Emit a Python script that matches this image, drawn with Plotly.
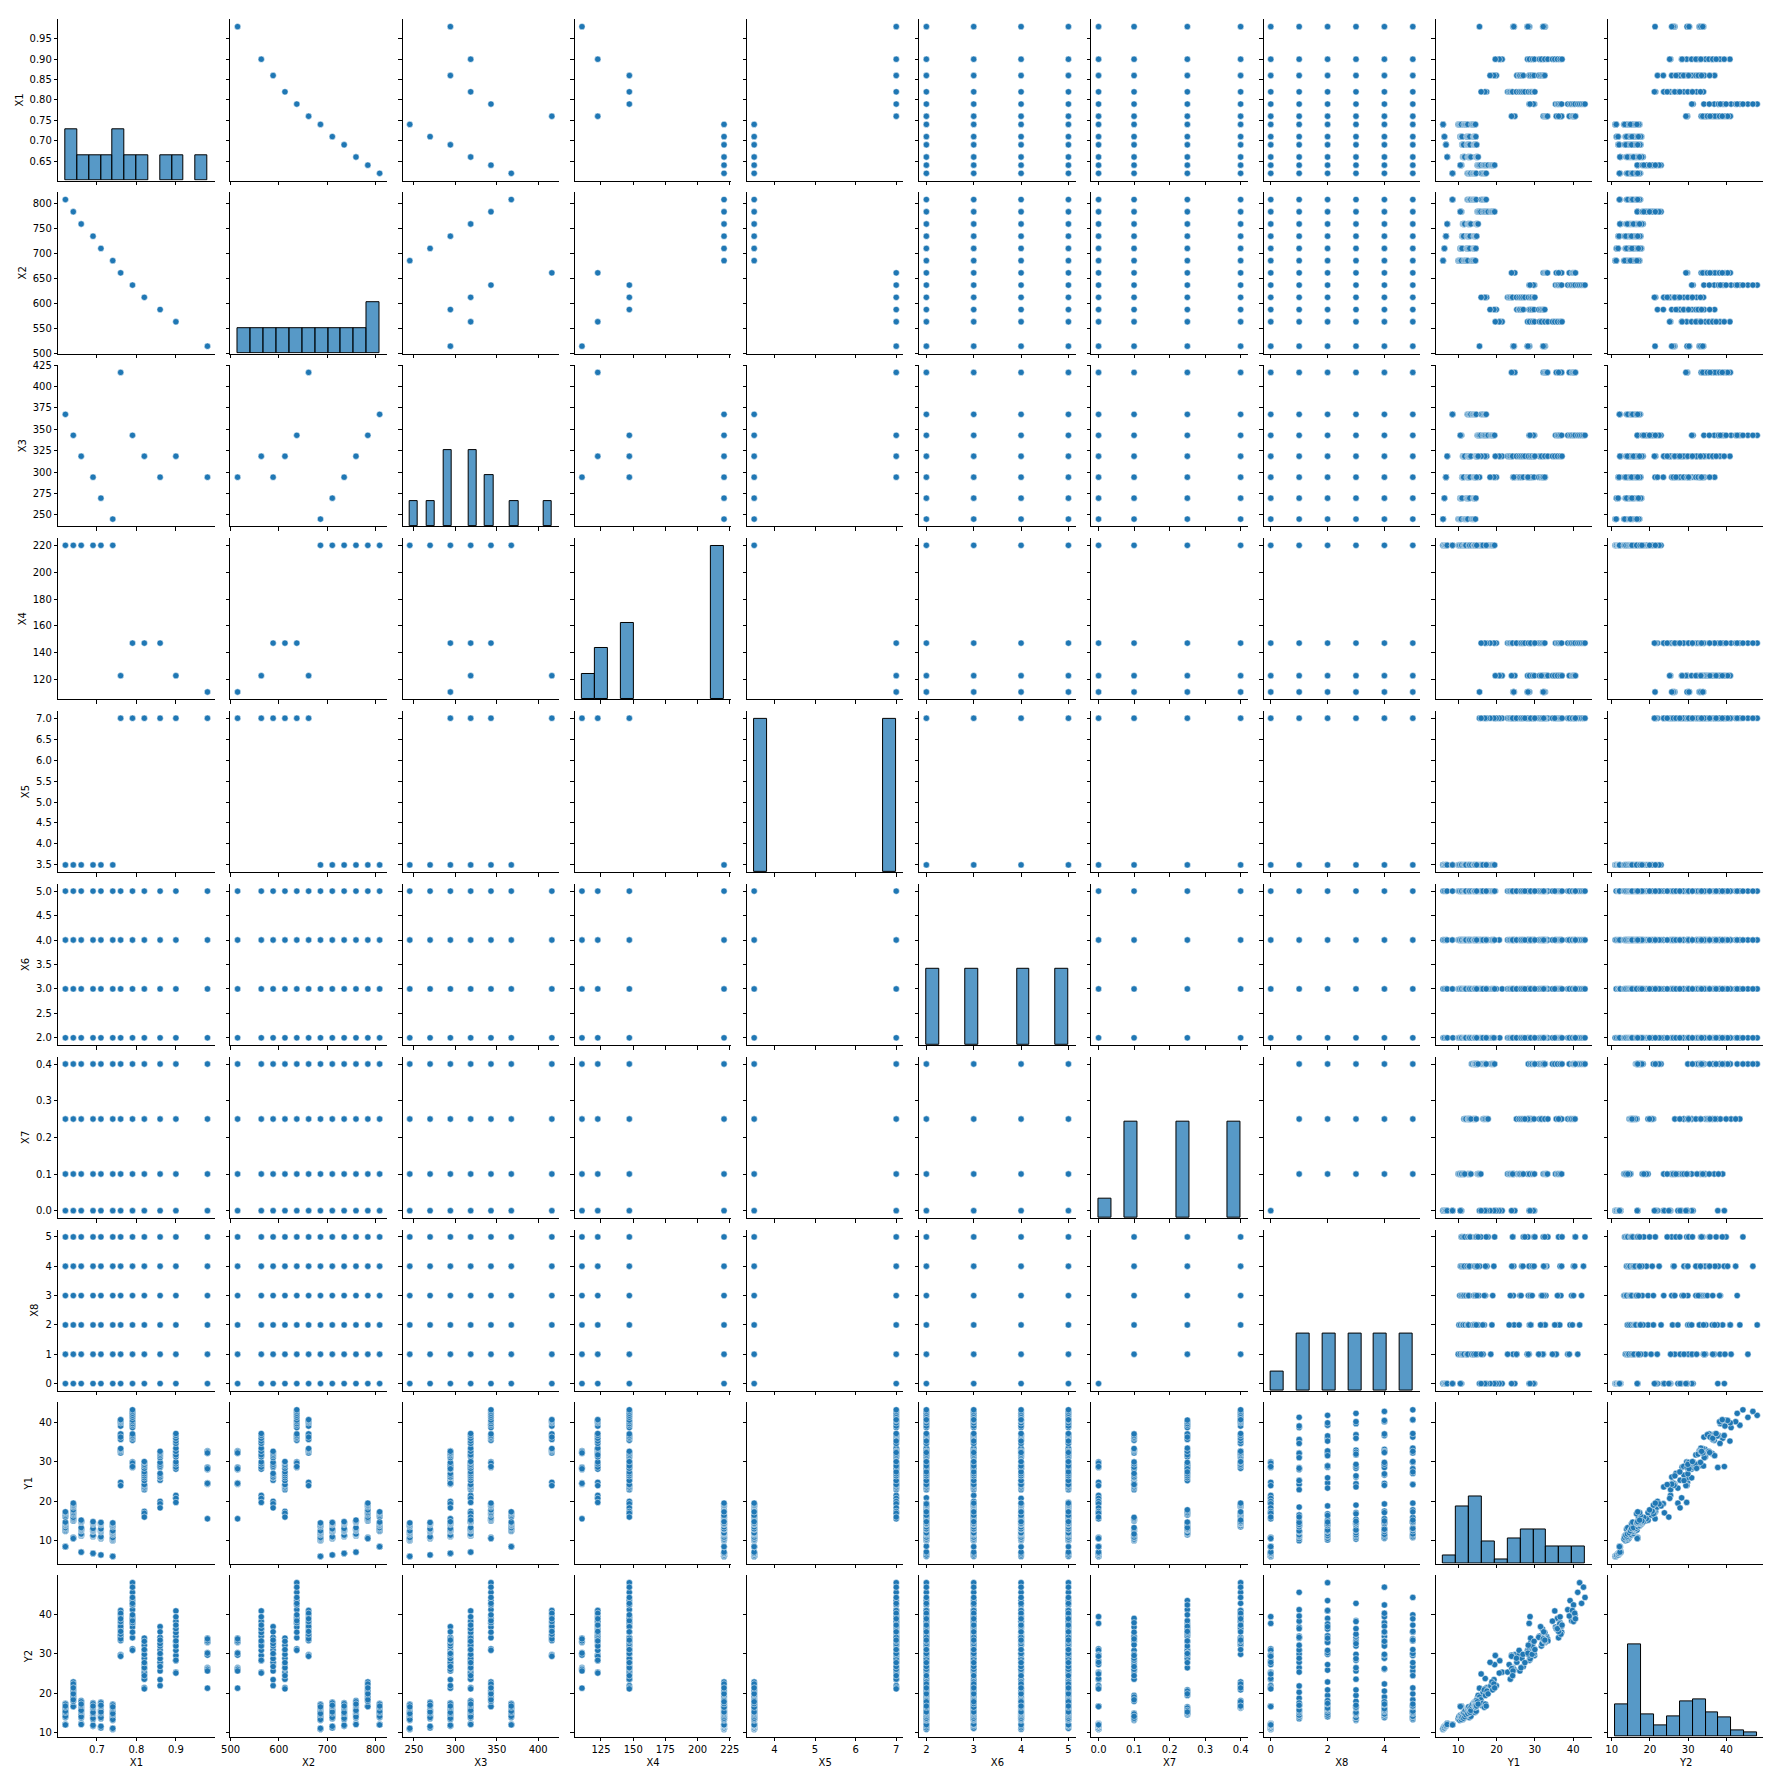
import numpy as np
import pandas as pd
import plotly.graph_objects as go

# 12 building shapes, one entry per shape
X1_SHAPES = [0.98, 0.90, 0.86, 0.82, 0.79, 0.76, 0.74, 0.71, 0.69, 0.66, 0.64, 0.62]
X2_SHAPES = [514.5, 563.5, 588.0, 612.5, 637.0, 661.5, 686.0, 710.5, 735.0, 759.5, 784.0, 808.5]
X3_SHAPES = [294.0, 318.5, 294.0, 318.5, 343.0, 416.5, 245.0, 269.5, 294.0, 318.5, 343.0, 367.5]
X4_SHAPES = [110.25, 122.5, 147.0, 147.0, 147.0, 122.5, 220.5, 220.5, 220.5, 220.5, 220.5, 220.5]
X5_SHAPES = [7.0, 7.0, 7.0, 7.0, 7.0, 7.0, 3.5, 3.5, 3.5, 3.5, 3.5, 3.5]

X6_ORIENT = [2, 3, 4, 5]
X7_GLAZING = [0.1, 0.25, 0.4]
X8_DISTRIB = [1, 2, 3, 4, 5]

# no glazing (X7=0, X8=0): per shape, one value per orientation
Y1_NO_GLAZING = [
    [15.55, 15.55, 15.55, 15.55],
    [20.84, 21.46, 20.71, 19.68],
    [19.50, 19.95, 19.34, 18.31],
    [17.05, 17.41, 16.95, 15.98],
    [28.52, 29.90, 29.63, 28.75],
    [24.77, 23.93, 24.77, 23.93],
    [6.07, 6.05, 6.01, 6.04],
    [6.37, 6.40, 6.37, 6.40],
    [6.85, 6.79, 6.77, 6.81],
    [7.18, 7.10, 7.10, 7.10],
    [10.85, 10.54, 10.77, 10.56],
    [8.60, 8.49, 8.45, 8.50],
]
Y2_NO_GLAZING = [
    [21.33, 21.33, 21.33, 21.33],
    [28.28, 25.38, 25.16, 29.60],
    [27.30, 21.97, 23.49, 27.87],
    [23.77, 21.46, 21.16, 24.93],
    [37.73, 31.27, 30.93, 39.44],
    [29.79, 29.68, 29.79, 29.40],
    [10.90, 11.19, 10.94, 11.17],
    [11.27, 11.72, 11.29, 11.67],
    [11.74, 12.05, 11.73, 11.93],
    [12.40, 12.23, 12.40, 12.14],
    [16.78, 16.80, 16.75, 16.67],
    [12.07, 12.22, 12.08, 12.04],
]

# glazed: per shape, glazing 0.1 / 0.25 / 0.4, each for distribution 1..5
Y1_GLAZED = [
    [24.3, 24.6, 24.4, 24.5, 24.3, 28.0, 28.6, 28.3, 28.5, 28.2, 32.1, 32.7, 32.4, 32.5, 32.2],
    [28.1, 29.0, 28.6, 29.4, 29.9, 31.2, 32.0, 31.7, 32.6, 33.4, 34.6, 35.2, 35.9, 36.6, 37.1],
    [25.3, 25.9, 26.1, 26.6, 27.0, 28.5, 29.0, 28.8, 29.3, 29.8, 31.0, 31.5, 31.9, 32.3, 32.6],
    [22.9, 23.3, 23.6, 24.0, 24.2, 25.2, 25.9, 26.4, 26.9, 27.4, 28.3, 28.9, 29.3, 29.8, 30.0],
    [35.4, 35.9, 36.2, 36.6, 37.0, 38.6, 39.2, 39.6, 40.1, 40.5, 41.2, 41.7, 42.2, 42.7, 43.1],
    [32.2, 32.6, 32.9, 33.1, 33.3, 35.6, 36.5, 36.8, 37.0, 36.2, 39.0, 39.8, 40.1, 40.4, 40.6],
    [10.0, 10.2, 10.4, 10.6, 10.8, 11.5, 11.8, 12.0, 12.3, 12.5, 13.5, 13.8, 14.0, 14.3, 14.5],
    [10.5, 10.6, 10.8, 10.9, 11.0, 12.2, 12.4, 12.6, 12.8, 13.0, 14.0, 14.2, 14.4, 14.5, 14.6],
    [11.0, 11.1, 11.2, 11.3, 11.4, 12.3, 12.5, 12.7, 12.9, 13.1, 14.1, 14.3, 14.5, 14.7, 14.8],
    [11.2, 11.3, 11.5, 11.6, 11.7, 12.5, 12.7, 12.9, 13.1, 13.3, 14.6, 14.7, 14.9, 15.0, 15.2],
    [15.0, 15.2, 15.4, 15.6, 15.9, 16.5, 16.8, 17.1, 17.5, 17.8, 18.5, 18.8, 19.0, 19.3, 19.5],
    [12.4, 12.6, 12.9, 13.1, 13.3, 13.8, 14.0, 14.3, 14.5, 14.7, 16.0, 16.4, 16.8, 17.1, 17.3],
]
Y2_GLAZED = [
    [26.5, 25.9, 26.3, 26.1, 25.7, 30.0, 30.3, 29.9, 29.7, 30.2, 34.0, 32.9, 33.0, 33.3, 33.8],
    [30.9, 33.1, 28.4, 32.3, 29.6, 34.5, 36.3, 32.0, 35.4, 33.3, 38.3, 40.9, 36.4, 39.4, 37.3],
    [27.9, 29.9, 25.7, 28.9, 26.8, 31.0, 33.1, 28.8, 32.0, 30.1, 34.2, 36.9, 32.6, 35.6, 33.5],
    [25.4, 27.3, 23.6, 26.3, 24.5, 28.9, 30.9, 26.5, 29.9, 27.8, 32.2, 34.0, 29.9, 33.2, 31.1],
    [36.8, 39.0, 34.1, 37.9, 35.5, 41.2, 43.5, 38.4, 42.4, 39.9, 45.6, 48.03, 42.8, 46.9, 44.3],
    [34.1, 34.6, 33.4, 34.4, 33.8, 36.4, 37.6, 35.0, 37.0, 35.7, 39.6, 41.0, 38.2, 40.3, 38.9],
    [13.6, 14.1, 13.2, 13.9, 13.4, 15.1, 15.6, 14.6, 15.4, 14.9, 16.9, 17.3, 16.3, 17.1, 16.6],
    [14.1, 14.5, 13.6, 14.3, 13.9, 15.5, 16.0, 15.0, 15.7, 15.3, 17.3, 17.8, 16.7, 17.6, 17.0],
    [14.0, 14.5, 13.4, 14.3, 13.7, 15.5, 16.1, 14.9, 15.8, 15.2, 17.1, 17.6, 16.5, 17.4, 16.8],
    [14.4, 15.0, 13.8, 14.7, 14.1, 16.0, 16.6, 15.4, 16.3, 15.7, 17.6, 18.2, 17.0, 17.9, 17.3],
    [18.8, 19.5, 18.0, 19.1, 18.4, 20.3, 20.9, 19.5, 20.6, 19.9, 21.9, 22.9, 20.9, 22.4, 21.4],
    [14.5, 15.0, 13.9, 14.8, 14.2, 15.8, 16.3, 15.2, 16.1, 15.5, 17.0, 17.5, 16.5, 17.3, 16.8],
]

COLUMNS = ["X1", "X2", "X3", "X4", "X5", "X6", "X7", "X8", "Y1", "Y2"]

Y_TICK_LABELS = {
    "X1": ["0.65", "0.70", "0.75", "0.80", "0.85", "0.90", "0.95"],
    "X2": ["500", "550", "600", "650", "700", "750", "800"],
    "X3": ["250", "275", "300", "325", "350", "375", "400", "425"],
    "X4": ["120", "140", "160", "180", "200", "220"],
    "X5": ["3.5", "4.0", "4.5", "5.0", "5.5", "6.0", "6.5", "7.0"],
    "X6": ["2.0", "2.5", "3.0", "3.5", "4.0", "4.5", "5.0"],
    "X7": ["0.0", "0.1", "0.2", "0.3", "0.4"],
    "X8": ["0", "1", "2", "3", "4", "5"],
    "Y1": ["10", "20", "30", "40"],
    "Y2": ["10", "20", "30", "40"],
}
X_TICK_LABELS = {
    "X1": ["0.7", "0.8", "0.9"],
    "X2": ["500", "600", "700", "800"],
    "X3": ["250", "300", "350", "400"],
    "X4": ["125", "150", "175", "200", "225"],
    "X5": ["4", "5", "6", "7"],
    "X6": ["2", "3", "4", "5"],
    "X7": ["0.0", "0.1", "0.2", "0.3", "0.4"],
    "X8": ["0", "2", "4"],
    "Y1": ["10", "20", "30", "40"],
    "Y2": ["10", "20", "30", "40"],
}

# build the table row by row
rows = []
for s in range(len(X1_SHAPES)):
    for o, orient in enumerate(X6_ORIENT):
        rows.append([X1_SHAPES[s], X2_SHAPES[s], X3_SHAPES[s], X4_SHAPES[s], X5_SHAPES[s],
                     orient, 0.0, 0, Y1_NO_GLAZING[s][o], Y2_NO_GLAZING[s][o]])
for g, glaz in enumerate(X7_GLAZING):
    for d, dist in enumerate(X8_DISTRIB):
        k = g * len(X8_DISTRIB) + d
        for s in range(len(X1_SHAPES)):
            for orient in X6_ORIENT:
                rows.append([X1_SHAPES[s], X2_SHAPES[s], X3_SHAPES[s], X4_SHAPES[s], X5_SHAPES[s],
                             orient, glaz, dist, Y1_GLAZED[s][k], Y2_GLAZED[s][k]])
df = pd.DataFrame(rows, columns=COLUMNS).astype(float)

BLUE = "#1f77b4"
FONT = dict(family="DejaVu Sans", size=10, color="black")
W, H = 1771, 1768
ML, MR, MT, MB = 50, 6, 7, 38
PW, PH = W - ML - MR, H - MT - MB
n = len(COLUMNS)

ranges = {}
for col in COLUMNS:
    lo, hi = df[col].min(), df[col].max()
    pad = (hi - lo) * 0.05
    ranges[col] = [lo - pad, hi + pad]

hists = {}
for col in COLUMNS:
    counts, edges = np.histogram(df[col].values, bins="auto")
    hists[col] = (counts, edges)
# one count scale for all diagonal panels
hist_top = max(c.max() for c, _ in hists.values()) * 1.05


def ax_id(letter, k):
    return letter if k == 1 else f"{letter}{k}"


fig = go.Figure()
layout = {}
axis_style = dict(showgrid=False, zeroline=False, showline=True, linecolor="black",
                  linewidth=1, ticks="outside", ticklen=3.5, tickwidth=0.8,
                  tickcolor="black", tickfont=FONT)

for r in range(n):
    ytop = 0.3 + r * 173.3
    ydom = [1 - (ytop + 161.7) / PH, 1 - ytop / PH]
    for c in range(n):
        k = r * n + c + 1
        xleft = 0.3 + c * 173.0
        xdom = [xleft / PW, (xleft + 157) / PW]
        xref, yref = ax_id("x", k), ax_id("y", k)
        cx, cy = COLUMNS[c], COLUMNS[r]

        xt = X_TICK_LABELS[cx]
        layout[ax_id("xaxis", k)] = dict(axis_style, domain=xdom, anchor=yref, range=ranges[cx],
                                         tickvals=[float(t) for t in xt], ticktext=xt,
                                         showticklabels=(r == n - 1),
                                         title=dict(text=cx if r == n - 1 else "", font=FONT, standoff=4))
        yt = Y_TICK_LABELS[cy]
        if r == c:
            # diagonal: the axis counts rows, the ticks still mark the row variable
            lo, hi = ranges[cy]
            yrange = [0, hist_top]
            yvals = [(float(t) - lo) / (hi - lo) * hist_top for t in yt]
        else:
            yrange = ranges[cy]
            yvals = [float(t) for t in yt]
        layout[ax_id("yaxis", k)] = dict(axis_style, domain=ydom, anchor=xref, range=yrange,
                                         tickvals=yvals, ticktext=yt,
                                         showticklabels=(c == 0),
                                         title=dict(text=cy if c == 0 else "", font=FONT, standoff=4))

        if r == c:
            counts, edges = hists[cx]
            keep = counts > 0
            fig.add_trace(go.Bar(
                x=((edges[:-1] + edges[1:]) / 2)[keep], y=counts[keep],
                width=np.diff(edges)[keep], xaxis=xref, yaxis=yref,
                marker=dict(color="rgba(31,119,180,0.75)", line=dict(color="black", width=1)),
                showlegend=False, hoverinfo="skip"))
        else:
            pts = df[[cx, cy]].drop_duplicates()
            fig.add_trace(go.Scatter(
                x=pts[cx], y=pts[cy], mode="markers", xaxis=xref, yaxis=yref,
                marker=dict(color=BLUE, size=6.3, line=dict(color="white", width=0.5)),
                showlegend=False, hoverinfo="skip"))

fig.update_layout(**layout)
fig.update_layout(width=W, height=H, margin=dict(l=ML, r=MR, t=MT, b=MB),
                  plot_bgcolor="white", paper_bgcolor="white", font=FONT,
                  bargap=0)
fig.write_html("out.html")
